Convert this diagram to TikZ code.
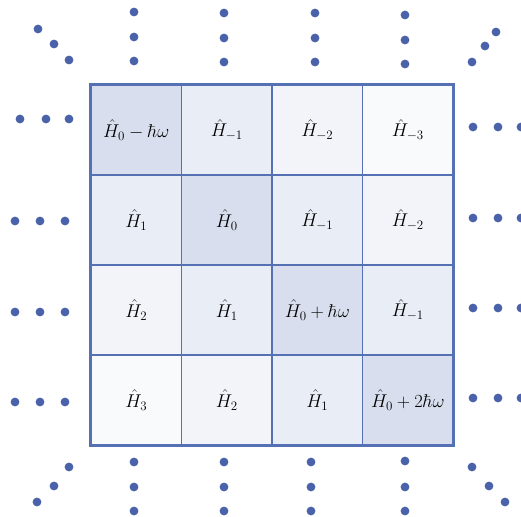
\RequirePackage{fix-cm}
\documentclass[tikz,border=0pt]{standalone}
\usepackage{amsmath}
\definecolor{gridline}{RGB}{86,112,180}
\definecolor{dotcol}{RGB}{74,98,170}
\definecolor{cdiag}{RGB}{216,222,237}
\definecolor{cone}{RGB}{233,237,245}
\definecolor{ctwo}{RGB}{242,244,249}
\definecolor{cthree}{RGB}{249,250,252}
\tikzset{
  cell/.style={draw=gridline, line width=1.4pt, minimum width=90.5pt, minimum height=90pt,
    inner sep=0pt, anchor=center, font=\fontsize{18.5}{22}\selectfont},
  dotfill/.style={fill=dotcol},
}
\begin{document}
\begin{tikzpicture}[x=1pt,y=-1pt]
\useasboundingbox (0,0) rectangle (521,516);
% row 0
\node[cell, fill=cdiag]   (c00) at (136.25,130) {$\hat H_0-\hbar\omega$};
\node[cell, fill=cone]    (c01) at (226.75,130) {$\hat H_{-1}$};
\node[cell, fill=ctwo]    (c02) at (317.25,130) {$\hat H_{-2}$};
\node[cell, fill=cthree]  (c03) at (407.75,130) {$\hat H_{-3}$};
% row 1
\node[cell, fill=cone]    (c10) at (136.25,220) {$\hat H_1$};
\node[cell, fill=cdiag]   (c11) at (226.75,220) {$\hat H_0$};
\node[cell, fill=cone]    (c12) at (317.25,220) {$\hat H_{-1}$};
\node[cell, fill=ctwo]    (c13) at (407.75,220) {$\hat H_{-2}$};
% row 2
\node[cell, fill=ctwo]    (c20) at (136.25,310) {$\hat H_2$};
\node[cell, fill=cone]    (c21) at (226.75,310) {$\hat H_1$};
\node[cell, fill=cdiag]   (c22) at (317.25,310) {$\hat H_0+\hbar\omega$};
\node[cell, fill=cone]    (c23) at (407.75,310) {$\hat H_{-1}$};
% row 3
\node[cell, fill=cthree]  (c30) at (136.25,400) {$\hat H_3$};
\node[cell, fill=ctwo]    (c31) at (226.75,400) {$\hat H_2$};
\node[cell, fill=cone]    (c32) at (317.25,400) {$\hat H_1$};
\node[cell, fill=cdiag]   (c33) at (407.75,400) {$\hat H_0+2\hbar\omega$};
% outer frame
\draw[gridline, line width=2.2pt] (c00.north west) rectangle (c33.south east);
% dots
\foreach \p in {
  (134,12),(134,37),(134,61),
  (224,13),(224,38),(224,62),
  (315,13),(315,38),(315,62),
  (405,15),(405,40),(405,64),
  (134,462),(134,487),(134,511),
  (224,462),(224,487),(224,511),
  (311,462),(311,487),(311,511),
  (405,461),(405,487),(405,511),
  (20,119),(46,119),(69,119),
  (15,221),(40,221),(65,221),
  (15,312),(40,312),(65,312),
  (15,402),(40,402),(65,402),
  (473,127),(498,127),(521,127),
  (473,218),(498,218),(521,218),
  (473,308),(498,308),(521,308),
  (473,398),(498,398),(521,398),
  (38,29),(54,44),(69,60),
  (496,32),(485,46),(472,62),
  (69,467),(54,486),(37,502),
  (472,467),(489,486),(505,502)}
  \fill[dotfill] \p circle (4.4);
\end{tikzpicture}
\end{document}
